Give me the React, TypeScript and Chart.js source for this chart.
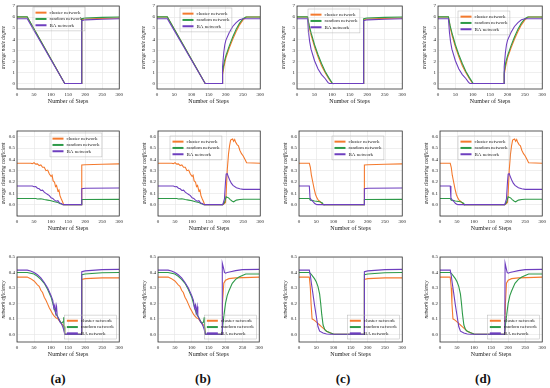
import React, { useEffect, useRef } from "react";
import { Chart, registerables } from "chart.js";
Chart.register(...registerables);

// ---------- labels ----------
const seriesNames = ["cluster network", "random network", "BA network"];
const seriesColors = ["#F47A2E", "#2E9A48", "#6E3FBF"];
const xTickValues = [0, 50, 100, 150, 200, 250, 300];
const panelLabels = ["(a)", "(b)", "(c)", "(d)"];
const yTitles = ["average node degree", "average clustering coefficient", "network efficiency"];
const xTitle = "Number of Steps";

// ---------- average node degree ----------
const degSlowCluster = [[0, 6], [30, 6], [140, 0], [190, 0]];
const degSlowRandom = [[0, 6.02], [30, 6.02], [140, 0], [190, 0]];
const degSlowBA = [[0, 5.85], [30, 5.85], [140, 0], [190, 0]];
const degFastCluster = [[0, 6], [30, 6], [35, 5.1], [40, 4.4], [50, 3.3], [60, 2.4], [70, 1.6], [80, 1.0], [90, 0.45], [100, 0], [190, 0]];
const degFastRandom = [[0, 6.02], [30, 6.02], [35, 5.2], [40, 4.6], [50, 3.5], [60, 2.6], [70, 1.8], [80, 1.1], [90, 0.55], [100, 0.05], [102, 0], [190, 0]];
const degFastBA = [[0, 5.85], [30, 5.85], [33, 4.6], [36, 3.8], [40, 3.1], [50, 2.05], [60, 1.3], [70, 0.8], [80, 0.45], [88, 0.1], [92, 0], [190, 0]];
const degJumpCluster = [[190, 5.75], [200, 5.82], [250, 5.88], [300, 5.92]];
const degJumpRandom = [[190, 5.85], [200, 5.92], [250, 5.97], [300, 6.0]];
const degJumpBA = [[190, 5.68], [200, 5.75], [250, 5.8], [300, 5.85]];
const degGrowCluster = [[190, 0], [191, 0.8], [195, 1.6], [200, 2.3], [210, 3.2], [220, 4.0], [230, 4.7], [240, 5.3], [250, 5.75], [260, 6.0], [300, 6.0]];
const degGrowRandom = [[190, 0], [191, 1.0], [195, 1.9], [200, 2.5], [210, 3.4], [220, 4.2], [230, 4.9], [240, 5.45], [250, 5.85], [258, 6.0], [300, 6.0]];
const degGrowBA = [[190, 0], [191, 1.5], [194, 2.8], [197, 3.5], [200, 3.9], [210, 4.6], [220, 5.15], [230, 5.5], [240, 5.75], [250, 5.85], [300, 5.85]];

// ---------- average clustering coefficient ----------
const ccSlowCluster = [[0, 0.365], [40, 0.365], [45, 0.362], [50, 0.37], [55, 0.358], [60, 0.36], [65, 0.345], [70, 0.35], [75, 0.33], [80, 0.33], [85, 0.3], [90, 0.305], [95, 0.27], [100, 0.25], [103, 0.26], [106, 0.21], [110, 0.2], [113, 0.16], [116, 0.17], [120, 0.12], [123, 0.13], [126, 0.08], [130, 0.05], [133, 0.03], [137, 0], [190, 0]];
const ccSlowRandom = [[0, 0.055], [55, 0.055], [60, 0.05], [70, 0.052], [80, 0.045], [90, 0.04], [100, 0.035], [105, 0.03], [110, 0.025], [120, 0.02], [125, 0.01], [130, 0.005], [135, 0], [190, 0]];
const ccSlowBA = [[0, 0.165], [45, 0.165], [50, 0.158], [55, 0.16], [60, 0.145], [65, 0.14], [70, 0.125], [75, 0.128], [80, 0.11], [85, 0.1], [90, 0.09], [95, 0.08], [100, 0.06], [105, 0.055], [110, 0.04], [115, 0.03], [120, 0.035], [125, 0.015], [130, 0.01], [135, 0], [190, 0]];
const ccFastCluster = [[0, 0.365], [30, 0.365], [33, 0.33], [36, 0.26], [40, 0.2], [44, 0.14], [48, 0.09], [52, 0.06], [56, 0.04], [60, 0.03], [65, 0.015], [70, 0], [190, 0]];
const ccFastRandom = [[0, 0.055], [30, 0.055], [33, 0.04], [38, 0.038], [45, 0.032], [50, 0.03], [55, 0.028], [60, 0.025], [65, 0.02], [68, 0.015], [70, 0.005], [72, 0], [190, 0]];
const ccFastBA = [[0, 0.165], [30, 0.165], [32, 0.06], [35, 0.045], [40, 0.03], [45, 0.012], [50, 0.002], [55, 0], [190, 0]];
const ccJumpCluster = [[190, 0.35], [200, 0.352], [250, 0.357], [300, 0.36]];
const ccJumpRandom = [[190, 0.045], [300, 0.047]];
const ccJumpBA = [[190, 0.14], [200, 0.145], [300, 0.147]];
const ccGrowCluster = [[190, 0], [195, 0.01], [198, 0.02], [200, 0.1], [203, 0.3], [207, 0.45], [210, 0.52], [213, 0.57], [216, 0.575], [219, 0.58], [222, 0.56], [225, 0.575], [228, 0.55], [232, 0.53], [236, 0.52], [240, 0.48], [245, 0.45], [250, 0.43], [255, 0.4], [260, 0.37], [300, 0.365]];
const ccGrowRandom = [[190, 0], [195, 0.02], [200, 0.07], [203, 0.065], [207, 0.06], [212, 0.045], [218, 0.03], [222, 0.025], [230, 0.04], [240, 0.045], [250, 0.048], [300, 0.048]];
const ccGrowBA = [[190, 0], [195, 0.05], [198, 0.2], [200, 0.27], [203, 0.275], [206, 0.25], [210, 0.22], [215, 0.19], [220, 0.17], [230, 0.15], [240, 0.14], [250, 0.135], [300, 0.135]];

// ---------- network efficiency ----------
const effSlowCluster = [[0, 0.37], [30, 0.37], [40, 0.36], [50, 0.345], [60, 0.32], [65, 0.31], [70, 0.285], [75, 0.27], [80, 0.24], [85, 0.22], [90, 0.195], [95, 0.17], [100, 0.15], [105, 0.13], [110, 0.115], [115, 0.105], [120, 0.1], [125, 0.085], [130, 0.07], [135, 0.06], [138, 0.05], [140, 0], [190, 0]];
const effSlowRandom = [[0, 0.4], [30, 0.4], [50, 0.39], [60, 0.375], [70, 0.355], [80, 0.33], [90, 0.29], [100, 0.24], [105, 0.2], [110, 0.16], [115, 0.13], [120, 0.11], [125, 0.09], [130, 0.07], [135, 0.08], [137, 0.11], [138, 0.05], [140, 0], [190, 0]];
const effSlowBA = [[0, 0.415], [30, 0.415], [40, 0.41], [50, 0.4], [60, 0.385], [70, 0.365], [80, 0.335], [90, 0.3], [100, 0.25], [105, 0.22], [108, 0.17], [111, 0.19], [113, 0.14], [116, 0.18], [118, 0.12], [122, 0.1], [126, 0.08], [130, 0.07], [134, 0.05], [137, 0.03], [140, 0], [190, 0]];
const effFastCluster = [[0, 0.37], [30, 0.37], [33, 0.3], [35, 0.2], [38, 0.1], [45, 0.09], [50, 0.08], [55, 0.07], [60, 0.06], [65, 0.05], [70, 0.04], [75, 0.03], [80, 0.02], [90, 0.01], [100, 0], [190, 0]];
const effFastRandom = [[0, 0.4], [30, 0.4], [35, 0.39], [40, 0.375], [45, 0.36], [50, 0.34], [55, 0.31], [60, 0.26], [63, 0.2], [66, 0.13], [70, 0.06], [75, 0.03], [80, 0.02], [90, 0.01], [100, 0.002], [105, 0], [190, 0]];
const effFastBA = [[0, 0.415], [30, 0.415], [33, 0.38], [36, 0.33], [40, 0.27], [45, 0.19], [50, 0.12], [55, 0.05], [60, 0.02], [70, 0.008], [80, 0.002], [90, 0], [190, 0]];
const effJumpCluster = [[190, 0.355], [200, 0.36], [250, 0.365], [300, 0.365]];
const effJumpRandom = [[190, 0.385], [200, 0.39], [250, 0.398], [300, 0.4]];
const effJumpBA = [[190, 0.405], [200, 0.41], [250, 0.418], [300, 0.42]];
const effGrowCluster = [[190, 0], [192, 0.2], [195, 0.33], [200, 0.35], [210, 0.36], [230, 0.365], [300, 0.37]];
const effGrowRandom = [[190, 0.02], [193, 0.08], [197, 0.15], [200, 0.2], [205, 0.25], [210, 0.28], [220, 0.33], [230, 0.355], [240, 0.37], [250, 0.38], [260, 0.39], [300, 0.39]];
const effGrowBA = [[190, 0], [191, 0.46], [194, 0.43], [197, 0.4], [200, 0.395], [205, 0.4], [215, 0.405], [230, 0.412], [250, 0.418], [300, 0.42]];

// ---------- axis ranges ----------
const yMins = [-0.5, -0.1, -0.05];
const yMaxs = [7, 0.65, 0.5];
const ySteps = [1, 0.1, 0.1];
const yDecimals = [0, 1, 1];

// tables built from the arrays above: [row][series]
const slowTable = [
  [degSlowCluster, degSlowRandom, degSlowBA],
  [ccSlowCluster, ccSlowRandom, ccSlowBA],
  [effSlowCluster, effSlowRandom, effSlowBA],
];
const fastTable = [
  [degFastCluster, degFastRandom, degFastBA],
  [ccFastCluster, ccFastRandom, ccFastBA],
  [effFastCluster, effFastRandom, effFastBA],
];
const jumpTable = [
  [degJumpCluster, degJumpRandom, degJumpBA],
  [ccJumpCluster, ccJumpRandom, ccJumpBA],
  [effJumpCluster, effJumpRandom, effJumpBA],
];
const growTable = [
  [degGrowCluster, degGrowRandom, degGrowBA],
  [ccGrowCluster, ccGrowRandom, ccGrowBA],
  [effGrowCluster, effGrowRandom, effGrowBA],
];

// ---------- layout ----------
const FONT = '"Liberation Serif", "Times New Roman", serif';
const YW = 16, XH = 16, PT = 4, PR = 6;
const rowTB = [[5, 89], [130, 216], [256, 342]];
const colLR = [
  [[17, 120], [157, 261], [297, 403], [438, 543]],
  [[17, 120], [158, 261], [299, 403], [440, 543]],
  [[17, 120], [158, 260], [299, 403], [440, 543]],
];
const legendPos = [
  [[16, 1], [23, 2], [11, 3], [20, 5]],
  [[33, 2], [12, 5], [33, 5], [18, 5]],
  [[3, 3], [3, 3], [3, 3], [3, 3]],
];
const labelCenters = [58, 203, 343, 483];

const legendPlugin = {
  id: "boxLegend",
  afterDatasetsDraw(chart: any, _args: any, opts: any) {
    const { ctx, chartArea: a } = chart;
    ctx.save();
    ctx.font = `5px ${FONT}`;
    const sample = 11, gap = 3, pad = 2.5, rowH = 6.3;
    const tw = Math.max(...seriesNames.map((n) => ctx.measureText(n).width));
    const w = pad + sample + gap + tw + pad;
    const h = pad * 2 + rowH * 3;
    let x: number, y: number;
    if (opts.anchor === "br") {
      x = a.right - opts.dx - w;
      y = a.bottom - opts.dy - h;
    } else {
      x = a.left + opts.dx;
      y = a.top + opts.dy;
    }
    ctx.strokeStyle = "#b5b5b5";
    ctx.lineWidth = 0.5;
    ctx.strokeRect(x, y, w, h);
    seriesNames.forEach((n, i) => {
      const cy = y + pad + rowH * i + rowH / 2;
      ctx.strokeStyle = seriesColors[i];
      ctx.lineWidth = 2;
      ctx.beginPath();
      ctx.moveTo(x + pad, cy);
      ctx.lineTo(x + pad + sample, cy);
      ctx.stroke();
      ctx.fillStyle = "#222";
      ctx.textBaseline = "middle";
      ctx.textAlign = "left";
      ctx.fillText(n, x + pad + sample + gap, cy);
    });
    ctx.restore();
  },
};

const framePlugin = {
  id: "frame",
  afterDraw(chart: any) {
    const { ctx, chartArea: a } = chart;
    ctx.save();
    ctx.strokeStyle = "#333";
    ctx.lineWidth = 0.8;
    ctx.strokeRect(a.left, a.top, a.right - a.left, a.bottom - a.top);
    ctx.restore();
  },
};

function Panel({ row, col }: { row: number; col: number }) {
  const ref = useRef<HTMLCanvasElement>(null);
  const [T, B] = rowTB[row];
  const [L, R] = colLR[row][col];
  const left = L - YW;
  const top = T - PT;
  const width = R - L + YW + PR;
  const height = B - T + PT + XH;

  useEffect(() => {
    if (!ref.current) return;
    const decline = col < 2 ? slowTable[row] : fastTable[row];
    const recovery = col % 2 === 0 ? jumpTable[row] : growTable[row];
    const datasets = seriesNames.map((name, i) => ({
      label: name,
      data: [...decline[i], ...recovery[i]].map(([x, y]) => ({ x, y })),
      borderColor: seriesColors[i],
      backgroundColor: seriesColors[i],
      borderWidth: 1.1,
      pointRadius: 0,
      tension: 0,
      fill: false,
      order: 3 - i,
    }));
    const lp = legendPos[row][col];
    const chart = new Chart(ref.current, {
      type: "line",
      data: { datasets },
      options: {
        animation: false,
        responsive: false,
        maintainAspectRatio: false,
        devicePixelRatio: 1,
        events: [],
        layout: { padding: { top: PT, right: PR, left: 0, bottom: 0 } },
        plugins: {
          legend: { display: false },
          tooltip: { enabled: false },
          boxLegend: { anchor: row === 2 ? "br" : "tl", dx: lp[0], dy: lp[1] },
        } as any,
        scales: {
          x: {
            type: "linear",
            min: 0,
            max: 300,
            afterFit: (s: any) => { s.height = XH; },
            afterBuildTicks: (s: any) => { s.ticks = xTickValues.map((v) => ({ value: v })); },
            border: { display: false },
            grid: { color: "#e4e4e4", lineWidth: 0.6, drawTicks: false },
            ticks: { font: { family: FONT, size: 5 }, color: "#222", padding: 3, maxRotation: 0, autoSkip: false },
            title: { display: true, text: xTitle, font: { family: FONT, size: 6 }, color: "#222", padding: 0 },
          },
          y: {
            type: "linear",
            min: yMins[row],
            max: yMaxs[row],
            afterFit: (s: any) => { s.width = YW; },
            border: { display: false },
            grid: { color: "#e4e4e4", lineWidth: 0.6, drawTicks: false },
            ticks: {
              stepSize: ySteps[row],
              includeBounds: false,
              font: { family: FONT, size: 5 },
              color: "#222",
              padding: 2,
              callback: (v: any) => (Number(v) < -1e-9 ? "" : Number(v).toFixed(yDecimals[row])),
            },
            title: { display: true, text: yTitles[row], font: { family: FONT, size: 5.2, style: "italic" }, color: "#222", padding: 0 },
          },
        },
      },
      plugins: [legendPlugin, framePlugin],
    });
    return () => chart.destroy();
  }, [row, col]);

  return (
    <canvas
      ref={ref}
      width={width}
      height={height}
      style={{ position: "absolute", left, top, width, height }}
    />
  );
}

export default function App() {
  const panels = [];
  for (let r = 0; r < 3; r++) for (let c = 0; c < 4; c++) panels.push(<Panel key={`${r}-${c}`} row={r} col={c} />);
  return (
    <div style={{ position: "absolute", left: 0, top: 0, width: 550, height: 388, background: "#fff", overflow: "hidden" }}>
      {panels}
      {panelLabels.map((t, i) => (
        <div
          key={t}
          style={{
            position: "absolute",
            left: labelCenters[i] - 20,
            width: 40,
            top: 371,
            textAlign: "center",
            fontFamily: FONT,
            fontWeight: "bold",
            fontSize: 13,
            lineHeight: "16px",
            color: "#111",
          }}
        >
          {t}
        </div>
      ))}
    </div>
  );
}
